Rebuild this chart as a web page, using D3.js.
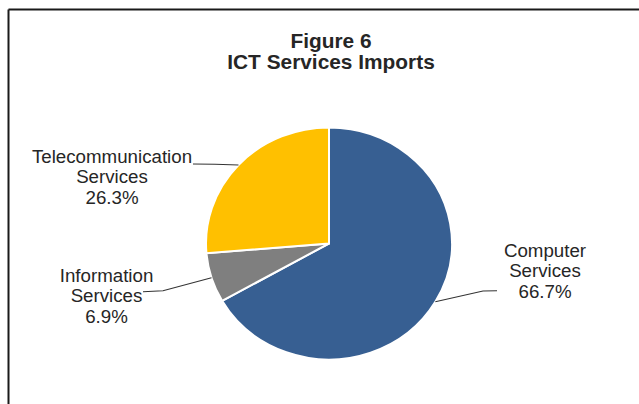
<!DOCTYPE html>
<html>
<head>
<meta charset="utf-8">
<script src="https://cdn.jsdelivr.net/npm/d3@7/dist/d3.min.js"></script>
<style>
  html, body { margin: 0; padding: 0; background: #fff; }
  svg { display: block; }
  text { font-family: "Liberation Sans", Arial, sans-serif; fill: #262626; }
</style>
</head>
<body>
<svg id="chart" width="639" height="404"></svg>
<script>
// ---- data ----
const categories = ["Computer Services", "Information Services", "Telecommunication Services"];
const labelLines = [["Computer", "Services"], ["Information", "Services"], ["Telecommunication", "Services"]];
const shares = [66.7, 6.9, 26.3];
const colors = ["#375F92", "#7F7F7F", "#FFC000"];
const titleLines = ["Figure 6", "ICT Services Imports"];

// ---- layout ----
const W = 639, H = 404;
const cx = 329, cy = 243.5, r = 116, sx = 123 / 116;
const textStretch = 1.07;
// label placement: text centre x, first baseline, elbow point, text attach point
const labelLayout = [
  { tx: 545, ty: 257, elbow: [483, 291], end: [497, 290.7] },
  { tx: 106.5, ty: 282, elbow: [163, 290.7], end: [143, 291.7] },
  { tx: 112, ty: 163, elbow: [215, 164.3], end: [193, 164] }
];
const lineGap = 20.3;

const svg = d3.select("#chart");

// frame
svg.append("line").attr("x1", 8.5).attr("x2", W).attr("y1", 9.5).attr("y2", 9.5)
  .attr("stroke", "#1a1a1a").attr("stroke-width", 2);
svg.append("line").attr("x1", 8.5).attr("x2", 8.5).attr("y1", 9.5).attr("y2", H)
  .attr("stroke", "#1a1a1a").attr("stroke-width", 2);

// title
svg.append("g").selectAll("text").data(titleLines).join("text")
  .attr("transform", (d, i) => `translate(331,${48 + i * 21}) scale(${textStretch},1)`)
  .attr("text-anchor", "middle")
  .attr("font-size", 19.5).attr("font-weight", "bold")
  .text(d => d);

// pie
const pie = d3.pie().sort(null).value(d => d);
const arcs = pie(shares);
const arc = d3.arc().innerRadius(0).outerRadius(r);

const g = svg.append("g").attr("transform", `translate(${cx},${cy}) scale(${sx},1)`);
g.selectAll("path").data(arcs).join("path")
  .attr("d", arc)
  .attr("fill", (d, i) => colors[i])
  .attr("stroke", "#fff")
  .attr("stroke-width", 2)
  .attr("vector-effect", "non-scaling-stroke");

// leaders and labels
const lab = svg.append("g");
arcs.forEach((a, i) => {
  const mid = (a.startAngle + a.endAngle) / 2;
  const px = cx + sx * r * Math.sin(mid);
  const py = cy - r * Math.cos(mid);
  const L = labelLayout[i];
  lab.append("polyline")
    .attr("points", [[px, py], L.elbow, L.end].map(p => p.join(",")).join(" "))
    .attr("fill", "none").attr("stroke", "#333").attr("stroke-width", 1.1);
  const lines = labelLines[i].concat([d3.format(".1f")(shares[i]) + "%"]);
  lab.append("g").selectAll("text").data(lines).join("text")
    .attr("transform", (d, j) => `translate(${L.tx},${L.ty + j * lineGap}) scale(${textStretch},1)`)
    .attr("text-anchor", "middle").attr("font-size", 17.5)
    .text(d => d);
});
</script>
</body>
</html>
